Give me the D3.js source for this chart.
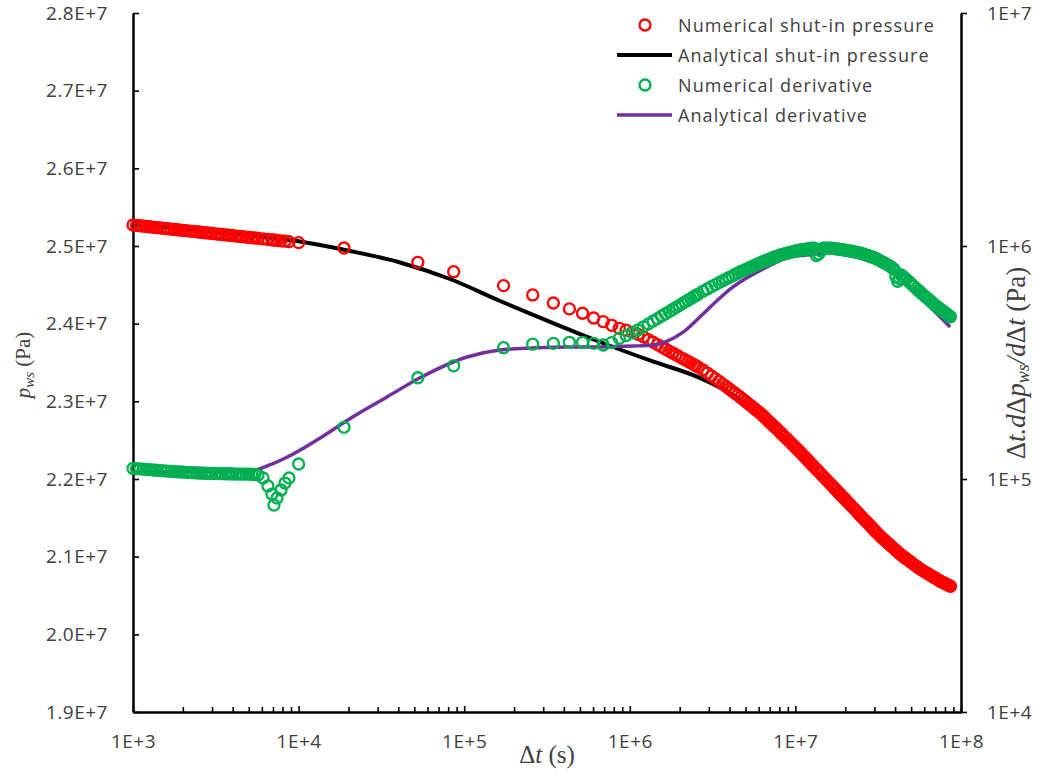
<!DOCTYPE html>
<html>
<head>
<meta charset="utf-8">
<script src="https://cdn.jsdelivr.net/npm/d3@7"></script>
<style>
  body { margin: 0; background: #fff; }
  svg { display: block; }
</style>
</head>
<body>
<svg id="chart" width="1037" height="773"></svg>
<script>
// ---- shut-in test data -------------------------------------------------
// Early-time numerical output (seconds after shut-in)
const earlyTimes = [1000,1050,1100,1150,1200,1250,1300,1350,1400,1475,1550,1625,1700,1775,1850,1925,2000,
  2100,2200,2300,2400,2500,2600,2700,2800,2900,3000,3150,3300,3450,3600,3750,3900,
  4000,4200,4400,4600,4800,5000,5200,5450,5690,6100,6530,6900,7100,7410,7830,8280,8750,10000,18800,52500];
const pwsEarly = [2.5270e7,2.5265e7,2.5261e7,2.5256e7,2.5252e7,2.5248e7,2.5244e7,2.5240e7,2.5237e7,2.5232e7,2.5227e7,2.5222e7,2.5218e7,2.5213e7,2.5209e7,2.5205e7,2.5202e7,
  2.5197e7,2.5192e7,2.5188e7,2.5184e7,2.5180e7,2.5176e7,2.5172e7,2.5168e7,2.5165e7,2.5162e7,2.5157e7,2.5152e7,2.5148e7,2.5144e7,2.5140e7,2.5136e7,
  2.5133e7,2.5128e7,2.5124e7,2.5120e7,2.5115e7,2.5111e7,2.5107e7,2.5103e7,2.5099e7,2.5092e7,2.5085e7,2.5080e7,2.5077e7,2.5073e7,2.5067e7,2.5062e7,2.5056e7,2.5043e7,2.4974e7,2.4790e7];
const derivEarly = [1.110e5,1.107e5,1.105e5,1.102e5,1.100e5,1.097e5,1.095e5,1.092e5,1.090e5,1.087e5,1.084e5,1.081e5,1.078e5,1.076e5,1.074e5,1.072e5,1.070e5,
  1.068e5,1.066e5,1.064e5,1.062e5,1.061e5,1.060e5,1.059e5,1.058e5,1.057e5,1.056e5,1.055e5,1.055e5,1.054e5,1.053e5,1.053e5,1.052e5,
  1.051e5,1.050e5,1.050e5,1.050e5,1.050e5,1.049e5,1.048e5,1.045e5,1.040e5,1.010e5,9.33e4,8.62e4,7.73e4,8.29e4,8.97e4,9.61e4,1.010e5,1.160e5,1.667e5,2.720e5];

// Report steps after the first day (days after shut-in)
const shutInDays = [1,2,3,4,5,6,7,8,9,10,
  11,12,13,14,15,16,17,18,19,20,21,22,23,24,25,26,27,28,29,30,
  32,34,36,38,40,42,44,46,48,50,52,54,56,58,60,
  62,64,66,68,70,72,74,76,78,80,82,84,86,88,90,
  93,96,99,102,105,108,111,114,117,120,123,126,129,132,135,138,141,144,147,150,
  155,160,165,170,175,180,185,190,195,200,205,210,215,220,225,230,235,240,
  248,256,264,272,280,288,296,304,312,320,328,336,344,352,360,
  372,384,396,408,420,432,444,456,468,480,492,504,516,528,540,
  560,580,600,620,640,660,680,700,720,740,760,780,800,820,840,860,880,900,920,940,960,980,1000];
const pwsDaily = [2.4669e7,2.4490e7,2.4370e7,2.4266e7,2.4190e7,2.4134e7,2.4073e7,2.4026e7,2.3979e7,2.3940e7,
  2.3916e7,2.3889e7,2.3862e7,2.3830e7,2.3794e7,2.3762e7,2.3731e7,2.3701e7,2.3674e7,2.3647e7,2.3622e7,2.3599e7,2.3576e7,2.3554e7,2.3534e7,2.3514e7,2.3495e7,2.3476e7,2.3459e7,2.3441e7,
  2.3404e7,2.3364e7,2.3326e7,2.3292e7,2.3258e7,2.3225e7,2.3192e7,2.3162e7,2.3132e7,2.3104e7,2.3077e7,2.3050e7,2.3023e7,2.2997e7,2.2971e7,
  2.2948e7,2.2925e7,2.2902e7,2.2878e7,2.2858e7,2.2835e7,2.2811e7,2.2787e7,2.2764e7,2.2741e7,2.2720e7,2.2698e7,2.2677e7,2.2658e7,2.2639e7,
  2.2609e7,2.2580e7,2.2551e7,2.2524e7,2.2497e7,2.2471e7,2.2446e7,2.2421e7,2.2397e7,2.2374e7,2.2350e7,2.2327e7,2.2304e7,2.2282e7,2.2260e7,2.2238e7,2.2218e7,2.2197e7,2.2178e7,2.2157e7,
  2.2126e7,2.2096e7,2.2066e7,2.2035e7,2.2008e7,2.1980e7,2.1953e7,2.1927e7,2.1904e7,2.1878e7,2.1855e7,2.1830e7,2.1807e7,2.1785e7,2.1763e7,2.1743e7,2.1721e7,2.1700e7,
  2.1669e7,2.1638e7,2.1609e7,2.1579e7,2.1550e7,2.1523e7,2.1496e7,2.1471e7,2.1447e7,2.1422e7,2.1398e7,2.1373e7,2.1350e7,2.1328e7,2.1306e7,
  2.1274e7,2.1247e7,2.1221e7,2.1197e7,2.1172e7,2.1149e7,2.1126e7,2.1104e7,2.1082e7,2.1062e7,2.1040e7,2.1023e7,2.1006e7,2.0990e7,2.0974e7,
  2.0950e7,2.0925e7,2.0901e7,2.0879e7,2.0857e7,2.0836e7,2.0820e7,2.0804e7,2.0789e7,2.0773e7,2.0758e7,2.0744e7,2.0729e7,2.0717e7,2.0702e7,2.0690e7,2.0678e7,2.0668e7,2.0657e7,2.0648e7,2.0638e7,2.0629e7,2.0619e7];
const derivDaily = [3.06e5,3.66e5,3.79e5,3.82e5,3.86e5,3.86e5,3.82e5,3.76e5,3.85e5,4.02e5,
  4.13e5,4.24e5,4.36e5,4.50e5,4.63e5,4.76e5,4.88e5,5.01e5,5.12e5,5.23e5,5.34e5,5.45e5,5.55e5,5.66e5,5.76e5,5.85e5,5.95e5,6.04e5,6.13e5,6.22e5,
  6.39e5,6.54e5,6.69e5,6.83e5,6.96e5,7.09e5,7.21e5,7.32e5,7.43e5,7.55e5,7.65e5,7.76e5,7.84e5,7.94e5,8.02e5,
  8.10e5,8.19e5,8.26e5,8.35e5,8.42e5,8.50e5,8.56e5,8.63e5,8.69e5,8.76e5,8.81e5,8.88e5,8.93e5,9.00e5,9.05e5,
  9.14e5,9.19e5,9.24e5,9.29e5,9.34e5,9.39e5,9.43e5,9.48e5,9.52e5,9.57e5,9.60e5,9.63e5,9.65e5,9.68e5,9.70e5,9.72e5,9.74e5,9.76e5,9.78e5,9.80e5,
  9.10e5,9.24e5,9.52e5,9.80e5,9.80e5,9.80e5,9.80e5,9.79e5,9.77e5,9.75e5,9.72e5,9.70e5,9.68e5,9.66e5,9.63e5,9.61e5,9.58e5,9.56e5,
  9.52e5,9.47e5,9.43e5,9.39e5,9.35e5,9.31e5,9.24e5,9.19e5,9.13e5,9.08e5,9.02e5,8.97e5,8.92e5,8.86e5,8.79e5,
  8.68e5,8.57e5,8.48e5,8.38e5,8.29e5,8.20e5,8.07e5,7.95e5,7.38e5,7.06e5,7.25e5,7.51e5,7.41e5,7.31e5,7.20e5,
  7.04e5,6.88e5,6.72e5,6.58e5,6.44e5,6.32e5,6.20e5,6.09e5,5.99e5,5.89e5,5.79e5,5.70e5,5.60e5,5.53e5,5.46e5,5.39e5,5.32e5,5.26e5,5.20e5,5.14e5,5.08e5,5.02e5,4.97e5];

// Analytical solution
const anaPwsTimes = [1000,2540,5088,10197,20440,40970,82120,164600,329800,660700,1324000,2654000,4200000,6740000,10660000,16870000,33800000,67800000,86400000];
const anaPws = [2.5270e7,2.5200e7,2.5135e7,2.5058e7,2.4936e7,2.4788e7,2.4575e7,2.4292e7,2.4022e7,2.3764e7,2.3526e7,2.3301e7,2.3082e7,2.2721e7,2.2296e7,2.1846e7,2.1202e7,2.0726e7,2.0610e7];
const anaDerivTimes = [1000,2000,4000,5300,6700,8500,13500,21300,34200,54100,104000,164000,260000,418000,661000,1040000,1380000,1680000,2100000,2650000,3500000,4200000,6740000,9270000,11700000,16200000,24500000,37200000,56500000,86000000];
const anaDeriv = [1.07e5,1.075e5,1.08e5,1.09e5,1.15e5,1.24e5,1.50e5,1.85e5,2.25e5,2.72e5,3.34e5,3.58e5,3.65e5,3.69e5,3.69e5,3.72e5,3.76e5,3.91e5,4.27e5,4.96e5,5.98e5,6.67e5,8.13e5,8.97e5,9.14e5,9.40e5,8.90e5,7.90e5,6.04e5,4.49e5];

// Axis ticks
const pressureTicks = [1.9e7,2.0e7,2.1e7,2.2e7,2.3e7,2.4e7,2.5e7,2.6e7,2.7e7,2.8e7];
const pressureLabels = ["1.9E+7","2.0E+7","2.1E+7","2.2E+7","2.3E+7","2.4E+7","2.5E+7","2.6E+7","2.7E+7","2.8E+7"];
const timeTicks = [1e3,1e4,1e5,1e6,1e7,1e8];
const timeLabels = ["1E+3","1E+4","1E+5","1E+6","1E+7","1E+8"];
const derivTicks = [1e4,1e5,1e6,1e7];
const derivLabels = ["1E+4","1E+5","1E+6","1E+7"];

const legendItems = [
  {label: "Numerical shut-in pressure", type: "circle", color: "#FF0000"},
  {label: "Analytical shut-in pressure", type: "line", color: "#000000"},
  {label: "Numerical derivative", type: "circle", color: "#00B050"},
  {label: "Analytical derivative", type: "line", color: "#7030A0"}
];

// ---- layout ------------------------------------------------------------
const SECONDS_PER_DAY = 86400;
const plot = {left: 133, right: 961, top: 13, bottom: 712};
const tickFont = "'Open Sans', 'Liberation Sans', sans-serif";
const serif = "'Liberation Serif', 'Times New Roman', serif";
const textColor = "#404040";
const markerR = 5.5;
const markerStroke = 2.3;

const svg = d3.select("#chart");

const x = d3.scaleLog().domain([1e3, 1e8]).range([plot.left, plot.right]);
const yP = d3.scaleLinear().domain([1.9e7, 2.8e7]).range([plot.bottom, plot.top]);
const yD = d3.scaleLog().domain([1e4, 1e7]).range([plot.bottom, plot.top]);

// numerical series (early output + daily report steps)
const numTimes = earlyTimes.concat(shutInDays.map(d => d * SECONDS_PER_DAY));
const numPws = pwsEarly.concat(pwsDaily);
const numDeriv = derivEarly.concat(derivDaily);
const pwsPoints = numTimes.map((t, i) => [t, numPws[i]]);
const derivPoints = numTimes.map((t, i) => [t, numDeriv[i]]);

// ---- axes ----------------------------------------------------------------
function styleAxis(g) {
  g.selectAll(".domain").attr("stroke", "#000").attr("stroke-width", 2.5);
  g.selectAll(".tick line").attr("stroke", "#000").attr("stroke-width", 1.6);
  g.selectAll(".tick text")
    .attr("fill", textColor)
    .style("font-family", tickFont)
    .style("font-size", "19px")
    .style("letter-spacing", "0.5px");
}

// left: shut-in pressure
svg.append("g")
  .attr("transform", `translate(${plot.left},0)`)
  .call(d3.axisLeft(yP).tickValues(pressureTicks)
    .tickFormat((d, i) => pressureLabels[i])
    .tickSizeInner(-6).tickSizeOuter(0).tickPadding(25))
  .call(styleAxis);

// bottom: shut-in time, minor ticks first
const minorTimes = [];
timeTicks.slice(0, -1).forEach(dec => {
  for (let m = 2; m <= 9; m++) minorTimes.push(dec * m);
});
svg.append("g")
  .attr("transform", `translate(0,${plot.bottom})`)
  .call(d3.axisBottom(x).tickValues(minorTimes).tickFormat("")
    .tickSizeInner(-5).tickSizeOuter(0))
  .call(g => g.select(".domain").remove())
  .call(styleAxis);
svg.append("g")
  .attr("transform", `translate(0,${plot.bottom})`)
  .call(d3.axisBottom(x).tickValues(timeTicks)
    .tickFormat((d, i) => timeLabels[i])
    .tickSizeInner(-6).tickSizeOuter(0).tickPadding(23))
  .call(styleAxis);

// right: pressure derivative
svg.append("g")
  .attr("transform", `translate(${plot.right},0)`)
  .call(d3.axisRight(yD).tickValues(derivTicks)
    .tickFormat((d, i) => derivLabels[i])
    .tickSizeInner(6).tickSizeOuter(0).tickPadding(20))
  .call(styleAxis);

// ---- axis titles -------------------------------------------------------
const leftTitle = svg.append("text")
  .attr("transform", "translate(30,365) rotate(-90)")
  .attr("text-anchor", "middle")
  .attr("fill", textColor)
  .style("font-family", serif)
  .style("font-size", "21px");
leftTitle.append("tspan").style("font-style", "italic").text("p");
leftTitle.append("tspan").style("font-style", "italic").style("font-size", "15px").attr("dy", 4).text("ws");
leftTitle.append("tspan").attr("dy", -4).text(" (Pa)");

const bottomTitle = svg.append("text")
  .attr("x", (plot.left + plot.right) / 2)
  .attr("y", 763)
  .attr("text-anchor", "middle")
  .attr("fill", textColor)
  .style("font-family", serif)
  .style("font-size", "25px");
bottomTitle.append("tspan").text("Δ");
bottomTitle.append("tspan").style("font-style", "italic").text("t");
bottomTitle.append("tspan").text(" (s)");

const rightTitle = svg.append("text")
  .attr("transform", "translate(1025,363) rotate(-90)")
  .attr("text-anchor", "middle")
  .attr("fill", textColor)
  .style("font-family", serif)
  .style("font-size", "27px");
rightTitle.append("tspan").text("Δ");
rightTitle.append("tspan").style("font-style", "italic").text("t.d");
rightTitle.append("tspan").text("Δ");
rightTitle.append("tspan").style("font-style", "italic").text("p");
rightTitle.append("tspan").style("font-style", "italic").style("font-size", "18px").attr("dy", 4).text("ws");
rightTitle.append("tspan").style("font-style", "italic").attr("dy", -4).text("/d");
rightTitle.append("tspan").text("Δ");
rightTitle.append("tspan").style("font-style", "italic").text("t");
rightTitle.append("tspan").text(" (Pa)");

// ---- series ------------------------------------------------------------
const plotArea = svg.append("g");

const pwsLine = d3.line()
  .x(d => x(d[0])).y(d => yP(d[1]))
  .curve(d3.curveMonotoneX);
const derivLine = d3.line()
  .x(d => x(d[0])).y(d => yD(d[1]))
  .curve(d3.curveMonotoneX);

plotArea.append("path")
  .datum(anaPwsTimes.map((t, i) => [t, anaPws[i]]))
  .attr("d", pwsLine)
  .attr("fill", "none")
  .attr("stroke", "#000")
  .attr("stroke-width", 4);

plotArea.append("g").selectAll("circle")
  .data(pwsPoints)
  .join("circle")
  .attr("cx", d => x(d[0]))
  .attr("cy", d => yP(d[1]))
  .attr("r", markerR)
  .attr("fill", "none")
  .attr("stroke", "#FF0000")
  .attr("stroke-width", markerStroke);

plotArea.append("path")
  .datum(anaDerivTimes.map((t, i) => [t, anaDeriv[i]]))
  .attr("d", derivLine)
  .attr("fill", "none")
  .attr("stroke", "#7030A0")
  .attr("stroke-width", 3.5);

plotArea.append("g").selectAll("circle")
  .data(derivPoints)
  .join("circle")
  .attr("cx", d => x(d[0]))
  .attr("cy", d => yD(d[1]))
  .attr("r", markerR)
  .attr("fill", "none")
  .attr("stroke", "#00B050")
  .attr("stroke-width", markerStroke);

// ---- legend --------------------------------------------------------------
const legendRowY = [25, 55, 85, 115];
const legend = svg.append("g");
legendItems.forEach((item, i) => {
  const row = legend.append("g").attr("transform", `translate(0,${legendRowY[i]})`);
  if (item.type === "circle") {
    row.append("circle").attr("cx", 645).attr("cy", 0).attr("r", markerR)
      .attr("fill", "none").attr("stroke", item.color).attr("stroke-width", markerStroke);
  } else {
    row.append("line").attr("x1", 617).attr("x2", 672).attr("y1", 0).attr("y2", 0)
      .attr("stroke", item.color).attr("stroke-width", item.color === "#000000" ? 4 : 3.5);
  }
  row.append("text")
    .attr("x", 678).attr("y", 6.5)
    .attr("fill", textColor)
    .style("font-family", tickFont)
    .style("font-size", "18px")
    .style("letter-spacing", "1.1px")
    .text(item.label);
});
</script>
</body>
</html>
